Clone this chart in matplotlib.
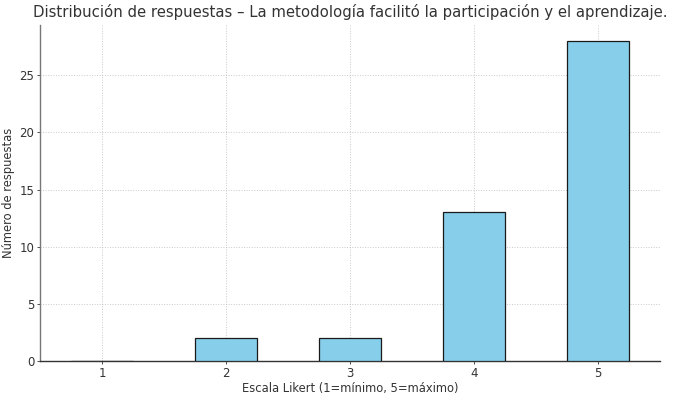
import matplotlib
matplotlib.use("Agg")
import matplotlib.pyplot as plt

categories = ["1", "2", "3", "4", "5"]
counts = [0, 2, 2, 13, 28]
title = "Distribución de respuestas – La metodología facilitó la participación y el aprendizaje."
xlabel = "Escala Likert (1=mínimo, 5=máximo)"
ylabel = "Número de respuestas"

txt = "#333333"
fig = plt.figure(figsize=(6.74, 3.97), dpi=100)
ax = fig.add_axes([40/674, 1-361/397, 620/674, 336/397])
x = list(range(len(categories)))
ax.bar(x, counts, width=0.5, color="skyblue", edgecolor="#1a1a1a", linewidth=0.9, zorder=3)
ax.set_xticks(x)
ax.set_xticklabels(categories)
ax.set_xlim(-0.5, 4.5)
ax.set_ylim(0, 29.4)
ax.set_yticks([0, 5, 10, 15, 20, 25])
ax.grid(True, linestyle=":", color="#bbbbbb", linewidth=0.7, alpha=0.8, zorder=0)
ax.spines["top"].set_visible(False)
ax.spines["right"].set_visible(False)
for s in ("left", "bottom"):
    ax.spines[s].set_color("#333333")
    ax.spines[s].set_linewidth(1.0)
ax.spines["left"].set_color("#777777")
ax.tick_params(labelsize=8.5, colors=txt, length=2, width=0.6, pad=2)
ax.set_title(title, fontsize=10.7, pad=6, color=txt)
ax.set_xlabel(xlabel, fontsize=8.3, color=txt, labelpad=2)
ax.set_ylabel(ylabel, fontsize=8.3, color=txt, labelpad=3)
fig.savefig("out.png", dpi=100)
